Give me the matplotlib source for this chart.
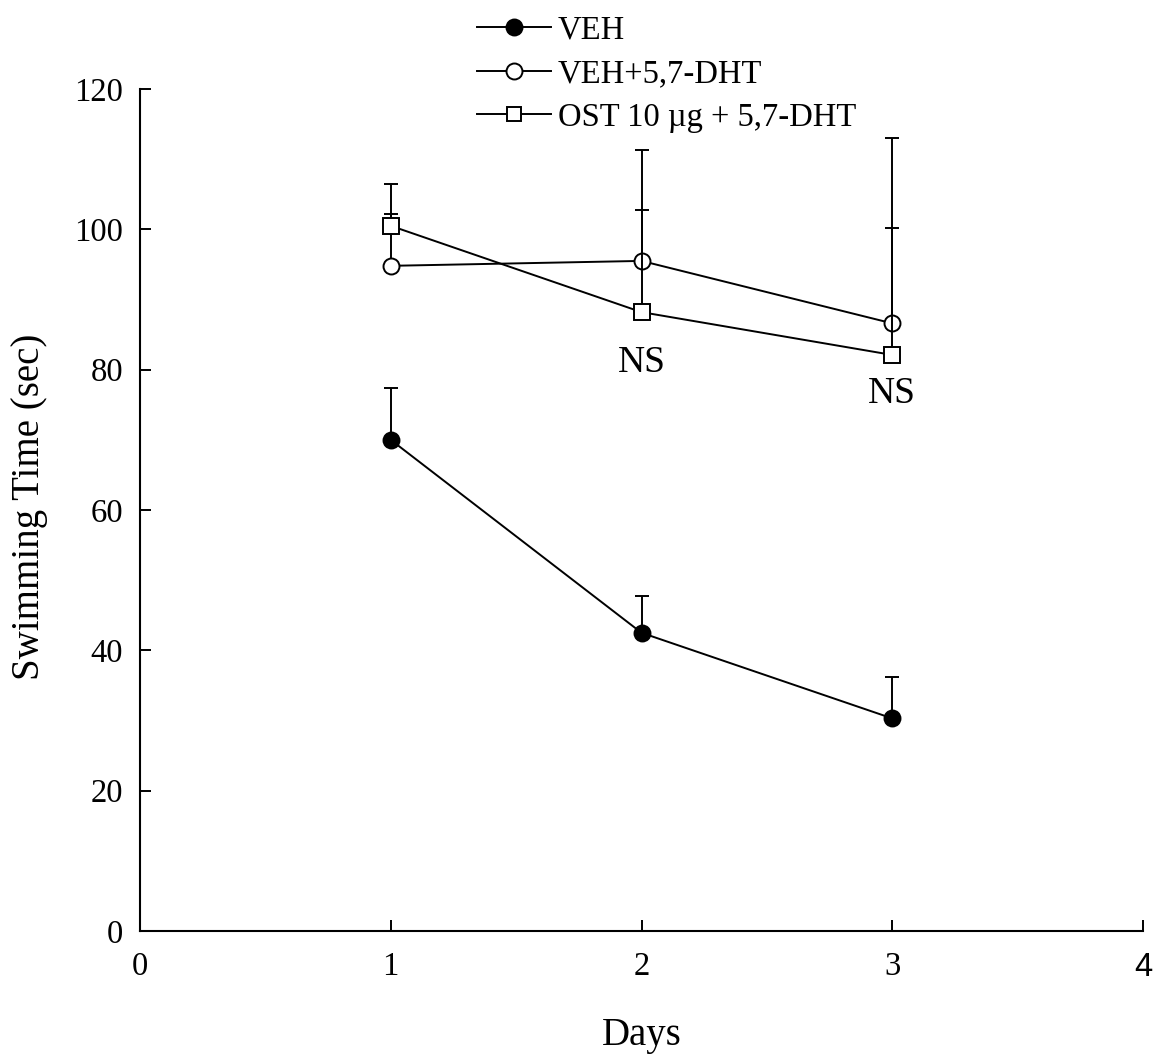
import matplotlib
matplotlib.use("Agg")
import matplotlib.pyplot as plt
from matplotlib.lines import Line2D

plt.rcParams['font.family'] = ['Liberation Serif', 'DejaVu Serif']

days = [1, 2, 3]

veh_mean = [70.0, 42.5, 30.3]
veh_sem = [7.4, 5.2, 5.9]

dht_mean = [94.8, 95.5, 86.6]
dht_sem = [7.4, 7.3, 13.6]

ost_mean = [100.5, 88.2, 82.1]
ost_sem = [6.0, 23.1, 30.9]

labels = ["VEH", "VEH+5,7-DHT", "OST 10 \u00b5g + 5,7-DHT"]
ns_positions = [(2, 81.0), (3, 76.6)]

xticks = [0, 1, 2, 3, 4]
yticks = [0, 20, 40, 60, 80, 100, 120]

W, H = 1158, 1055
fig = plt.figure(figsize=(W / 100, H / 100), dpi=100)
ax = fig.add_axes([140 / W, 124 / H, 1003 / W, 842 / H])

lw = 1.4
ms = 11.5
series = [
    (veh_mean, veh_sem, dict(marker='o', markerfacecolor='black'), 2),
    (dht_mean, dht_sem, dict(marker='o', markerfacecolor='white'), 3),
    (ost_mean, ost_sem, dict(marker='s', markerfacecolor='white'), 4),
]
for mean, sem, mstyle, z in series:
    ax.errorbar(days, mean, yerr=[[0] * len(sem), sem], fmt='none',
                ecolor='black', elinewidth=lw, capsize=5, capthick=lw,
                zorder=z)
    ax.plot(days, mean, color='black', linewidth=lw, markersize=ms,
            markeredgecolor='black', markeredgewidth=lw, zorder=z + 0.5,
            clip_on=False, **mstyle)

for x, y in ns_positions:
    ax.text(x, y, "NS", fontsize=27, ha='center', va='center')

ax.set_xlim(0, 4)
ax.set_ylim(0, 120)
ax.set_xticks(xticks, [str(t) for t in xticks])
ax.set_yticks(yticks, [str(t) for t in yticks])
ax.tick_params(direction='in', length=8, width=1.4, labelsize=23.5)
ax.tick_params(axis='x', pad=15)
ax.tick_params(axis='y', pad=12)
ax.get_xticklabels()[-1].set_fontfamily('Liberation Sans')
for side in ('top', 'right'):
    ax.spines[side].set_visible(False)
for side in ('left', 'bottom'):
    ax.spines[side].set_linewidth(1.5)

ax.set_xlabel("Days", fontsize=28)
ax.xaxis.set_label_coords(0.5, -0.102)
fig.text(30 / W, 1 - 507 / H, "Swimming Time (sec)", fontsize=28,
         rotation=90, ha='center', va='center')

handles = [
    Line2D([], [], color='black', lw=lw, marker='o', markersize=ms,
           markerfacecolor='black', markeredgewidth=lw),
    Line2D([], [], color='black', lw=lw, marker='o', markersize=ms,
           markerfacecolor='white', markeredgewidth=lw),
    Line2D([], [], color='black', lw=lw, marker='s', markersize=ms * 0.9,
           markerfacecolor='white', markeredgewidth=lw),
]
fig.legend(handles, labels, loc='upper left',
           bbox_to_anchor=(477 / W, 1 - 15 / H),
           bbox_transform=fig.transFigure, frameon=False, fontsize=23.5,
           handlelength=2.27, handletextpad=0.2, labelspacing=0.4,
           borderpad=0, borderaxespad=0)

fig.savefig("out.png", dpi=100)
